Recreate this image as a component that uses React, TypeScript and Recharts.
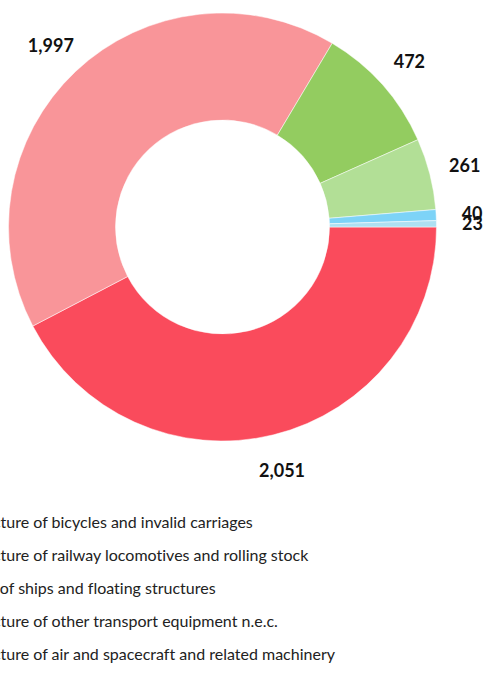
import { PieChart, Pie, Cell, Legend } from "recharts";

const categories = [
  "Manufacture of motor vehicles",
  "Manufacture of bicycles and invalid carriages",
  "Manufacture of railway locomotives and rolling stock",
  "Building of ships and floating structures",
  "Manufacture of other transport equipment n.e.c.",
  "Manufacture of air and spacecraft and related machinery",
];
const values = [2051, 1997, 472, 261, 40, 23];
const colors = ["#fa4b5c", "#f99599", "#93cc60", "#b2df96", "#7dd3f7", "#aee0f2"];

const legendLabels = [
  "Manufacture of bicycles and invalid carriages",
  "Manufacture of railway locomotives and rolling stock",
  "Building of ships and floating structures",
  "Manufacture of other transport equipment n.e.c.",
  "Manufacture of air and spacecraft and related machinery",
];
const legendColors = ["#f99599", "#93cc60", "#b2df96", "#7dd3f7", "#aee0f2"];

const data = categories.map((name, i) => ({ name, value: values[i] }));

const RAD = Math.PI / 180;
const fmt = (v: number) => v.toLocaleString("en-US");

const renderLabel = (props: any) => {
  const { cx, cy, midAngle, outerRadius, value } = props;
  const r = outerRadius + 36;
  const x = cx + r * Math.cos(-midAngle * RAD);
  const y = cy + r * Math.sin(-midAngle * RAD);
  return (
    <text
      x={x}
      y={y}
      textAnchor="middle"
      dominantBaseline="central"
      fill="#111"
      fontSize={18}
      fontWeight={700}
      fontFamily="Lato, sans-serif"
    >
      {fmt(value)}
    </text>
  );
};

const LegendList = () => (
  <div
    style={{
      fontFamily: "Lato, sans-serif",
      fontSize: 16,
      color: "#222",
      fontVariantLigatures: "none",
    }}
  >
    {legendLabels.map((l, i) => (
      <div key={l} style={{ display: "flex", alignItems: "center", height: 33 }}>
        <span
          style={{
            width: 12,
            height: 12,
            background: legendColors[i],
            marginRight: 8,
            display: "inline-block",
          }}
        />
        <span style={{ whiteSpace: "nowrap" }}>{l}</span>
      </div>
    ))}
  </div>
);

export default function App() {
  return (
    <div style={{ position: "absolute", left: 0, top: 0 }}>
      <PieChart width={483} height={696} margin={{ top: 0, right: 0, bottom: 0, left: 0 }}>
        <Pie
          data={data}
          dataKey="value"
          nameKey="name"
          cx={222.5}
          cy={227}
          innerRadius={107}
          outerRadius={214}
          startAngle={0}
          endAngle={-360}
          stroke="#fff"
          strokeWidth={0.5}
          label={renderLabel}
          labelLine={false}
          isAnimationActive={false}
        >
          {data.map((d, i) => (
            <Cell key={d.name} fill={colors[i]} />
          ))}
        </Pie>
        <Legend
          content={() => <LegendList />}
          wrapperStyle={{ left: -81, top: 505, width: 560 }}
        />
      </PieChart>
    </div>
  );
}
